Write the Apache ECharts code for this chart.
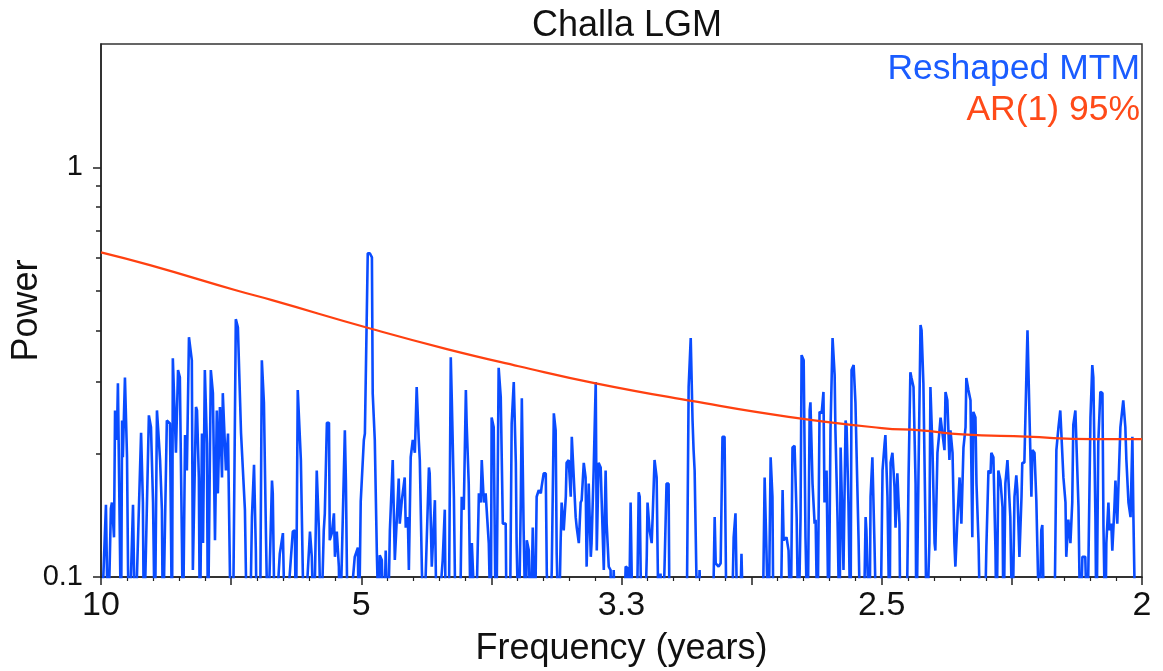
<!DOCTYPE html>
<html>
<head>
<meta charset="utf-8">
<script src="https://cdn.jsdelivr.net/npm/echarts@6/dist/echarts.min.js"></script>
<style>
html,body{margin:0;padding:0;background:#fff;}
#chart{width:1163px;height:671px;}
</style>
</head>
<body>
<div id="chart"></div>
<script>
// Reshaped MTM spectrum (frequency, power). Values below 0.1 fall under the axis floor.
const mtmFreq = [
0.1000,0.1019,0.1027,0.1038,0.1042,0.1050,0.1054,0.1061,0.1065,0.1073,0.1077,0.1081,0.1084,0.1092,0.1100,0.1104,0.1108,0.1123,0.1131,
0.1154,0.1161,0.1165,0.1184,0.1192,0.1200,0.1207,0.1215,0.1219,0.1227,0.1234,0.1238,0.1253,0.1265,0.1273,0.1276,0.1288,0.1296,0.1303,
0.1311,0.1315,0.1323,0.1330,0.1338,0.1349,0.1353,0.1365,0.1369,0.1376,0.1380,0.1388,0.1392,0.1399,0.1407,0.1411,0.1422,0.1430,0.1438,
0.1445,0.1449,0.1457,0.1465,0.1468,0.1480,0.1488,0.1499,0.1507,0.1518,0.1526,0.1538,0.1545,0.1553,0.1561,0.1572,0.1580,0.1588,0.1595,
0.1599,0.1611,0.1618,0.1626,0.1634,0.1641,0.1657,0.1660,0.1668,0.1687,0.1699,0.1707,0.1737,0.1745,0.1749,0.1756,0.1760,0.1768,0.1780,
0.1803,0.1810,0.1818,0.1829,0.1837,0.1845,0.1856,0.1860,0.1868,0.1876,0.1879,0.1887,0.1895,0.1899,0.1906,0.1914,0.1918,0.1937,0.1941,
0.1948,0.1975,0.1987,0.1991,0.1998,0.2010,0.2014,0.2025,0.2033,0.2041,0.2044,0.2052,0.2060,0.2068,0.2071,0.2079,0.2087,0.2094,0.2102,
0.2110,0.2121,0.2129,0.2137,0.2144,0.2148,0.2156,0.2167,0.2171,0.2179,0.2183,0.2190,0.2198,0.2206,0.2213,0.2221,0.2225,0.2233,0.2240,
0.2260,0.2263,0.2271,0.2283,0.2290,0.2313,0.2321,0.2325,0.2336,0.2344,0.2348,0.2356,0.2363,0.2379,0.2386,0.2394,0.2402,0.2405,0.2413,
0.2421,0.2425,0.2432,0.2440,0.2452,0.2459,0.2463,0.2471,0.2478,0.2482,0.2490,0.2498,0.2501,0.2509,0.2517,0.2521,0.2528,0.2536,0.2544,
0.2555,0.2559,0.2571,0.2578,0.2586,0.2594,0.2597,0.2605,0.2613,0.2617,0.2624,0.2632,0.2636,0.2644,0.2651,0.2659,0.2667,0.2674,0.2682,
0.2690,0.2693,0.2701,0.2709,0.2713,0.2724,0.2732,0.2740,0.2747,0.2751,0.2759,0.2766,0.2770,0.2778,0.2786,0.2789,0.2797,0.2805,0.2809,
0.2816,0.2824,0.2828,0.2836,0.2843,0.2847,0.2855,0.2862,0.2866,0.2874,0.2882,0.2885,0.2893,0.2901,0.2905,0.2912,0.2920,0.2924,0.2932,
0.2939,0.2943,0.2951,0.2958,0.2962,0.2970,0.2978,0.3008,0.3016,0.3024,0.3028,0.3035,0.3043,0.3058,0.3066,0.3070,0.3077,0.3089,0.3097,
0.3100,0.3108,0.3116,0.3120,0.3127,0.3135,0.3143,0.3150,0.3158,0.3166,0.3173,0.3181,0.3185,0.3250,0.3258,0.3266,0.3273,0.3277,0.3281,
0.3292,0.3300,0.3308,0.3350,0.3358,0.3362,0.3373,0.3381,0.3388,0.3396,0.3404,0.3423,0.3431,0.3438,0.3446,0.3454,0.3461,0.3469,0.3542,
0.3550,0.3557,0.3565,0.3573,0.3580,0.3584,0.3611,0.3619,0.3623,0.3634,0.3642,0.3650,0.3657,0.3665,0.3673,0.3680,0.3688,0.3692,0.3700,
0.3707,0.3715,0.3723,0.3726,0.3734,0.3742,0.3746,0.3753,0.3761,0.3769,0.3776,0.3780,0.3788,0.3796,0.3803,0.3811,0.3819,0.3822,0.3830,
0.3838,0.3842,0.3845,0.3853,0.3861,0.3865,0.3872,0.3880,0.3884,0.3892,0.3899,0.3903,0.3911,0.3918,0.3930,0.3938,0.3941,0.3953,0.3957,
0.3964,0.3972,0.3980,0.3995,0.4003,0.4011,0.4014,0.4022,0.4030,0.4034,0.4041,0.4049,0.4053,0.4060,0.4068,0.4072,0.4095,0.4103,0.4110,
0.4114,0.4122,0.4130,0.4133,0.4141,0.4149,0.4153,0.4160,0.4168,0.4172,0.4183,0.4187,0.4195,0.4203,0.4206,0.4214,0.4222,0.4226,0.4233,
0.4241,0.4245,0.4252,0.4260,0.4264,0.4272,0.4279,0.4283,0.4291,0.4299,0.4306,0.4314,0.4322,0.4325,0.4333,0.4341,0.4348,0.4352,0.4360,
0.4364,0.4372,0.4379,0.4395,0.4402,0.4410,0.4418,0.4421,0.4429,0.4437,0.4441,0.4448,0.4456,0.4464,0.4468,0.4475,0.4483,0.4487,0.4494,
0.4502,0.4510,0.4517,0.4521,0.4529,0.4537,0.4540,0.4548,0.4556,0.4560,0.4567,0.4575,0.4579,0.4587,0.4594,0.4598,0.4606,0.4613,0.4617,
0.4625,0.4663,0.4671,0.4679,0.4686,0.4690,0.4698,0.4706,0.4709,0.4717,0.4725,0.4732,0.4736,0.4744,0.4748,0.4756,0.4763,0.4771,0.4782,
0.4790,0.4802,0.4809,0.4813,0.4821,0.4825,0.4832,0.4840,0.4848,0.4852,0.4859,0.4863,0.4871,0.4875,0.4882,0.4886,0.4894,0.4898,0.4905,
0.4909,0.4917,0.4924,0.4928,0.4936,0.4940,0.4948,0.4956,0.4963,0.4967,0.4975,0.5000
];
const mtmPower = [
0.07,0.150,0.07,0.147,0.152,0.125,0.255,0.216,0.297,0.116,0.07,0.241,0.196,0.307,0.196,0.104,0.07,0.150,0.07,
0.225,0.152,0.07,0.248,0.232,0.152,0.07,0.255,0.255,0.193,0.146,0.07,0.241,0.237,0.07,0.342,0.201,0.320,0.307,
0.121,0.07,0.222,0.182,0.385,0.338,0.104,0.260,0.255,0.175,0.07,0.224,0.121,0.320,0.212,0.07,0.320,0.281,0.123,
0.255,0.160,0.260,0.175,0.281,0.182,0.224,0.07,0.07,0.426,0.407,0.225,0.224,0.146,0.07,0.07,0.140,0.188,0.116,
0.07,0.07,0.338,0.266,0.125,0.07,0.172,0.160,0.07,0.114,0.128,0.07,0.129,0.130,0.07,0.286,0.251,0.193,0.07,
0.129,0.112,0.07,0.182,0.132,0.07,0.130,0.143,0.238,0.238,0.123,0.128,0.143,0.112,0.129,0.106,0.07,0.228,0.172,
0.07,0.112,0.118,0.07,0.153,0.216,0.224,0.617,0.617,0.603,0.281,0.216,0.114,0.07,0.113,0.110,0.07,0.116,0.07,
0.130,0.193,0.110,0.140,0.174,0.135,0.154,0.175,0.132,0.140,0.104,0.196,0.216,0.201,0.291,0.216,0.193,0.104,0.07,
0.185,0.179,0.106,0.154,0.07,0.110,0.146,0.07,0.07,0.344,0.270,0.157,0.07,0.07,0.157,0.146,0.286,0.237,0.169,
0.07,0.121,0.121,0.07,0.160,0.152,0.193,0.152,0.160,0.160,0.121,0.07,0.245,0.232,0.07,0.100,0.324,0.275,0.135,
0.135,0.07,0.07,0.237,0.299,0.190,0.121,0.07,0.152,0.273,0.130,0.07,0.123,0.116,0.07,0.132,0.07,0.157,0.163,
0.160,0.166,0.179,0.179,0.102,0.07,0.104,0.251,0.228,0.114,0.07,0.121,0.152,0.130,0.157,0.190,0.193,0.157,0.220,
0.222,0.140,0.132,0.121,0.152,0.154,0.190,0.175,0.106,0.169,0.112,0.121,0.182,0.299,0.116,0.190,0.185,0.152,0.104,
0.182,0.135,0.106,0.104,0.07,0.104,0.07,0.07,0.106,0.105,0.07,0.152,0.07,0.07,0.161,0.157,0.07,0.07,0.112,
0.152,0.130,0.121,0.142,0.193,0.175,0.07,0.102,0.07,0.110,0.169,0.169,0.07,0.07,0.291,0.383,0.241,0.204,0.182,
0.07,0.104,0.07,0.07,0.140,0.108,0.106,0.108,0.220,0.220,0.07,0.07,0.125,0.143,0.07,0.07,0.114,0.07,0.07,
0.175,0.116,0.07,0.196,0.157,0.07,0.07,0.163,0.123,0.125,0.116,0.07,0.207,0.209,0.140,0.07,0.140,0.348,0.338,
0.125,0.07,0.255,0.267,0.169,0.135,0.138,0.07,0.253,0.251,0.283,0.152,0.182,0.07,0.228,0.383,0.311,0.228,0.140,
0.07,0.207,0.206,0.104,0.241,0.232,0.152,0.07,0.320,0.329,0.266,0.204,0.123,0.07,0.07,0.140,0.130,0.07,0.157,
0.196,0.121,0.07,0.07,0.182,0.212,0.222,0.157,0.07,0.190,0.201,0.166,0.132,0.179,0.135,0.07,0.07,0.175,0.316,
0.307,0.291,0.169,0.07,0.175,0.412,0.400,0.297,0.132,0.07,0.121,0.291,0.204,0.121,0.116,0.201,0.228,0.245,0.244,
0.204,0.283,0.270,0.193,0.228,0.201,0.121,0.106,0.140,0.175,0.135,0.207,0.232,0.306,0.286,0.270,0.125,0.253,0.245,
0.169,0.121,0.07,0.07,0.118,0.182,0.179,0.201,0.196,0.116,0.07,0.182,0.172,0.148,0.07,0.169,0.193,0.191,0.140,
0.07,0.157,0.177,0.163,0.112,0.157,0.190,0.190,0.315,0.400,0.400,0.157,0.204,0.201,0.154,0.118,0.07,0.130,0.134,
0.07,0.07,0.204,0.232,0.255,0.255,0.175,0.152,0.112,0.138,0.121,0.152,0.235,0.255,0.255,0.148,0.07,0.112,0.112,
0.07,0.245,0.329,0.307,0.140,0.07,0.212,0.283,0.281,0.132,0.07,0.121,0.152,0.130,0.135,0.116,0.148,0.172,0.135,
0.163,0.232,0.232,0.270,0.232,0.193,0.152,0.140,0.220,0.140,0.07,0.07
];
// AR(1) 95% confidence curve
const arFreq  = [0.1000,0.1188,0.1518,0.1657,0.2041,0.2329,0.2605,0.2901,0.3269,0.3642,0.4000,0.4149,0.4310,0.4556,0.4809,0.5000];
const arPower = [0.620,0.577,0.501,0.474,0.403,0.360,0.327,0.297,0.269,0.246,0.231,0.228,0.223,0.220,0.217,0.217];

// Tick labels
const xTickFreqs  = [0.1, 0.2, 0.3, 0.4, 0.5];
const xTickLabels = ['10', '5', '3.3', '2.5', '2'];
const yMajorTicks = [0.1, 1];
const yMajorLabels = ['0.1', '1'];
const yMinorTicks = [0.2, 0.3, 0.4, 0.5, 0.6, 0.7, 0.8, 0.9];

const seriesNames = ['Reshaped MTM', 'AR(1) 95%'];
const titleText = 'Challa LGM';

const FONT = '"Liberation Sans", Arial, Helvetica, sans-serif';
const BLUE = '#0a4cff';
const RED = '#ff4010';
const INK = '#111';

const chart = echarts.init(document.getElementById('chart'), null, {renderer: 'canvas'});
const grid = {left: 101, right: 21, top: 44, bottom: 94, containLabel: false, outerBoundsMode: 'none'};
const axisLineStyle = {color: '#222', width: 1.5};

chart.setOption({
  animation: false,
  backgroundColor: '#fff',
  textStyle: {fontFamily: FONT},
  title: {
    text: titleText, left: 622, textAlign: 'center', top: 3,
    textStyle: {fontSize: 36, fontWeight: 'normal', color: INK, fontFamily: FONT}
  },
  legend: {
    orient: 'vertical', right: 18, top: 51, align: 'right',
    icon: 'none', itemWidth: 0, itemGap: 5, padding: 0,
    selectedMode: false,
    textStyle: {fontSize: 35.5, fontFamily: FONT},
    data: [
      {name: seriesNames[0], textStyle: {color: '#1a5cff'}},
      {name: seriesNames[1], textStyle: {color: '#ff4a18'}}
    ]
  },
  grid: [
    Object.assign({show: true, borderColor: '#333', borderWidth: 1.5, backgroundColor: 'transparent'}, grid),
    Object.assign({show: false}, grid)
  ],
  xAxis: [
    {
      type: 'value', gridIndex: 0, min: 0.1, max: 0.5, interval: 0.05,
      name: 'Frequency (years)', nameLocation: 'middle', nameGap: 54,
      nameTextStyle: {fontSize: 36, color: INK, fontFamily: FONT},
      axisLine: {show: true, onZero: false, lineStyle: axisLineStyle},
      axisTick: {show: true, length: 8, inside: false, lineStyle: axisLineStyle},
      minorTick: {show: true, splitNumber: 5, length: 4, lineStyle: {color: '#222', width: 1.2}},
      splitLine: {show: false},
      axisLabel: {
        customValues: xTickFreqs, fontSize: 34, color: INK, margin: 12, fontFamily: FONT,
        formatter: function (v) {
          const i = xTickFreqs.findIndex(f => Math.abs(f - v) < 1e-9);
          return i >= 0 ? xTickLabels[i] : '';
        }
      }
    },
    {type: 'value', gridIndex: 1, min: 0.1, max: 0.5, show: false}
  ],
  yAxis: [
    {
      type: 'log', logBase: 10, gridIndex: 0, min: 0.1, max: 2,
      name: 'Power', nameLocation: 'middle', nameGap: 56, nameMoveOverlap: false,
      nameTextStyle: {fontSize: 36, color: INK, fontFamily: FONT},
      axisLine: {show: true, onZero: false, lineStyle: axisLineStyle},
      axisTick: {show: true, customValues: yMajorTicks, length: 8, lineStyle: axisLineStyle},
      splitLine: {show: false},
      axisLabel: {
        customValues: yMajorTicks, fontSize: 29, color: INK, margin: 18, fontFamily: FONT,
        formatter: function (v) {
          const i = yMajorTicks.findIndex(t => Math.abs(t - v) < 1e-9);
          return i >= 0 ? yMajorLabels[i] : '';
        }
      }
    },
    {
      type: 'log', logBase: 10, gridIndex: 1, min: 0.1, max: 2,
      axisLine: {show: false},
      axisTick: {show: true, customValues: yMinorTicks, length: 5, lineStyle: axisLineStyle},
      axisLabel: {show: false},
      splitLine: {show: false}
    }
  ],
  series: [
    {
      name: seriesNames[0], type: 'line', xAxisIndex: 0, yAxisIndex: 0,
      showSymbol: false, symbol: 'none', clip: true, smooth: false,
      lineStyle: {color: BLUE, width: 2.6},
      itemStyle: {color: BLUE},
      data: mtmFreq.map((f, i) => [f, mtmPower[i]])
    },
    {
      name: seriesNames[1], type: 'line', xAxisIndex: 0, yAxisIndex: 0,
      showSymbol: false, symbol: 'none', clip: true, smooth: true,
      lineStyle: {color: RED, width: 2.2},
      itemStyle: {color: RED},
      data: arFreq.map((f, i) => [f, arPower[i]])
    }
  ]
});
</script>
</body>
</html>
